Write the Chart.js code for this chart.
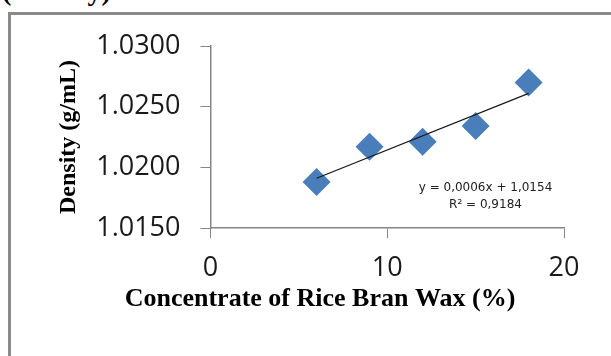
<!DOCTYPE html>
<html>
<head>
<meta charset="utf-8">
<script src="https://cdn.jsdelivr.net/npm/chart.js@4/dist/chart.umd.min.js"></script>
<style>
  html, body { margin: 0; padding: 0; background: #fff; width: 611px; height: 356px; overflow: hidden; }
  #frame { position: absolute; left: 8px; top: 12px; width: 700px; height: 400px; border: 3px solid #8a8a8a; box-sizing: border-box; }
  #hdr { position: absolute; left: 2px; top: -25px; font: bold 28px "Liberation Serif", serif; color: #000; white-space: nowrap; }
  #wrap { position: absolute; left: 0; top: 0; width: 611px; height: 356px; }
</style>
</head>
<body>
<div id="hdr">(Density)</div>
<div id="frame"></div>
<div id="wrap"><canvas id="c" width="611" height="356"></canvas></div>
<script>
// ---- data ----
const concentrations = [6, 9, 12, 15, 18];
const densities = [1.0188, 1.0217, 1.0221, 1.0234, 1.0270];
const trendX = [6, 18];
const trendY = [1.0191, 1.0261];
const xTickLabels = ['0', '10', '20'];
const yTickLabels = ['1.0150', '1.0200', '1.0250', '1.0300'];
const xTitle = 'Concentrate of Rice Bran Wax (%)';
const yTitle = 'Density (g/mL)';
const equationLines = ['y = 0,0006x + 1,0154', 'R\u00B2 = 0,9184'];

const axisColor = '#868686';

const textPlugin = {
  id: 'extraText',
  afterDraw(chart) {
    const ctx = chart.ctx;
    ctx.save();
    ctx.fillStyle = '#000';
    ctx.textAlign = 'center';
    ctx.textBaseline = 'middle';
    ctx.font = 'bold 26px "Liberation Serif", serif';
    ctx.fillText(xTitle, 320, 299);
    ctx.font = '12px "DejaVu Sans", sans-serif';
    ctx.fillStyle = '#222';
    ctx.fillText(equationLines[0], 485.5, 188);
    ctx.fillText(equationLines[1], 485.5, 205);
    ctx.restore();
  }
};

new Chart(document.getElementById('c'), {
  type: 'scatter',
  data: {
    datasets: [
      {
        label: 'trend',
        data: trendX.map((x, i) => ({ x: x, y: trendY[i] })),
        showLine: true,
        borderColor: '#1a1a1a',
        borderWidth: 1.3,
        pointRadius: 0,
        pointHoverRadius: 0,
        order: 0
      },
      {
        label: 'density',
        data: concentrations.map((x, i) => ({ x: x, y: densities[i] })),
        pointStyle: 'rectRot',
        pointRadius: 14,
        backgroundColor: '#4a7ebb',
        borderColor: '#4a7ebb',
        borderWidth: 0,
        showLine: false,
        order: 1
      }
    ]
  },
  options: {
    responsive: false,
    animation: false,
    devicePixelRatio: 1,
    layout: { padding: { left: 50, right: 47, top: 46, bottom: 0 } },
    plugins: { legend: { display: false }, tooltip: { enabled: false } },
    scales: {
      x: {
        type: 'linear',
        min: 0, max: 20,
        ticks: {
          stepSize: 10,
          padding: 14,
          color: '#1a1a1a',
          font: { family: '"Open Sans", sans-serif', size: 27 },
          callback: (v, i) => xTickLabels[i]
        },
        grid: { drawOnChartArea: false, drawTicks: true, tickLength: 10, color: axisColor, lineWidth: 1 },
        border: { display: true, color: axisColor, width: 1.5 },
        title: { display: false },
        afterFit: (s) => { s.height = 128; }
      },
      y: {
        type: 'linear',
        min: 1.015, max: 1.030,
        ticks: {
          stepSize: 0.005,
          padding: 20,
          color: '#1a1a1a',
          font: { family: '"Open Sans", sans-serif', size: 27 },
          callback: (v, i) => yTickLabels[i]
        },
        grid: { drawOnChartArea: false, drawTicks: true, tickLength: 10, color: axisColor, lineWidth: 1 },
        border: { display: true, color: axisColor, width: 1.5 },
        title: {
          display: true,
          text: yTitle,
          color: '#000',
          font: { family: '"Liberation Serif", serif', size: 24, weight: 'bold' },
          padding: { top: 4, bottom: 0 }
        },
        afterFit: (s) => { s.width = 160.5; }
      }
    }
  },
  plugins: [textPlugin]
});
</script>
</body>
</html>
